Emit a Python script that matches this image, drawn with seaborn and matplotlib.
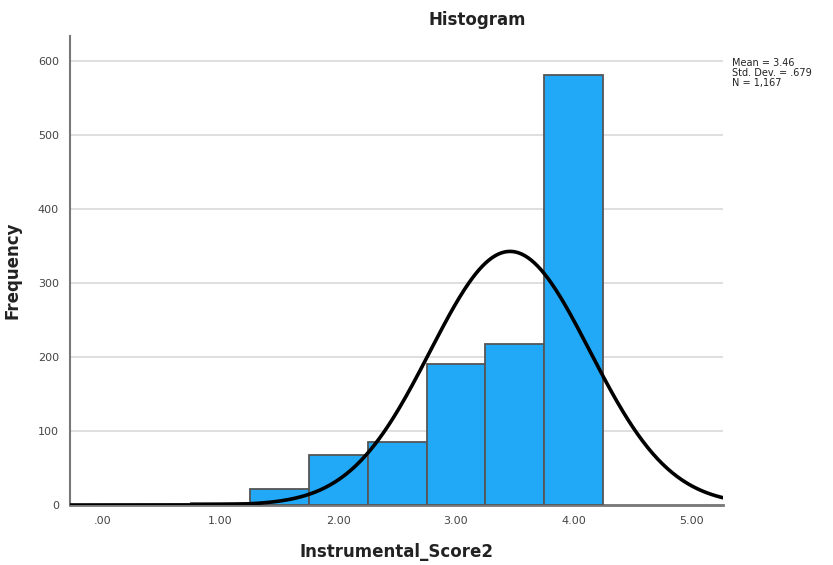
import numpy as np
import pandas as pd
import matplotlib
matplotlib.use("Agg")
import matplotlib.pyplot as plt
import seaborn as sns

# Data
bin_centers = [1.0, 1.5, 2.0, 2.5, 3.0, 3.5, 4.0]
counts = [3, 22, 68, 85, 190, 218, 581]
bin_width = 0.5
mean_val = 3.46
sd_val = 0.679
n_val = 1167
x_ticks = [0, 1, 2, 3, 4, 5]
x_tick_labels = [".00", "1.00", "2.00", "3.00", "4.00", "5.00"]
y_ticks = [0, 100, 200, 300, 400, 500, 600]
stats_lines = ["Mean = 3.46", "Std. Dev. = .679", "N = 1,167"]

sns.set_theme(style="white")
plt.rcParams['font.family'] = ['DejaVu Sans']

fig = plt.figure(figsize=(8.33, 5.65), dpi=100)
ax = fig.add_axes([70/833, 60/565, (723-70)/833, (505-36)/565])

df = pd.DataFrame({"x": bin_centers, "w": counts})
sns.histplot(data=df, x="x", weights="w", binwidth=bin_width,
             binrange=(min(bin_centers) - bin_width / 2, max(bin_centers) + bin_width / 2),
             ax=ax, color="#21A9F8", edgecolor="#555555", linewidth=1.3, alpha=1.0, zorder=3)

xmin, xmax = -0.28, 5.27
xs = np.linspace(xmin, xmax, 400)
ys = n_val * bin_width / (sd_val * np.sqrt(2 * np.pi)) * np.exp(-0.5 * ((xs - mean_val) / sd_val) ** 2)
sns.lineplot(x=xs, y=ys, ax=ax, color="black", linewidth=2.6, zorder=4)

ax.set_xlim(xmin, xmax)
ax.set_ylim(0, 634)
ax.set_xticks(x_ticks)
ax.set_xticklabels(x_tick_labels)
ax.set_yticks(y_ticks)
ax.tick_params(axis="both", length=0, labelsize=8, colors="#444444", pad=8)
ax.yaxis.grid(True, color="#d9d9d9", linewidth=1.2, zorder=0)
ax.set_axisbelow(True)
for s in ["top", "right"]:
    ax.spines[s].set_visible(False)
ax.spines["left"].set_color("#777777")
ax.spines["left"].set_linewidth(1.5)
ax.spines["bottom"].set_color("#777777")
ax.spines["bottom"].set_linewidth(2.0)

ax.set_xlabel("Instrumental_Score2", fontsize=12, fontweight="bold", color="#222222", labelpad=12)
ax.set_ylabel("Frequency", fontsize=12, fontweight="bold", color="#222222", labelpad=12)

fig.text(477/833, 1 - 20/565, "Histogram", ha="center", va="center",
         fontsize=12, fontweight="bold", color="#222222")
fig.text(732/833, 1 - 58/565, "\n".join(stats_lines), ha="left", va="top",
         fontsize=7, color="#222222", linespacing=1.0)

fig.savefig("out.png", dpi=100)
